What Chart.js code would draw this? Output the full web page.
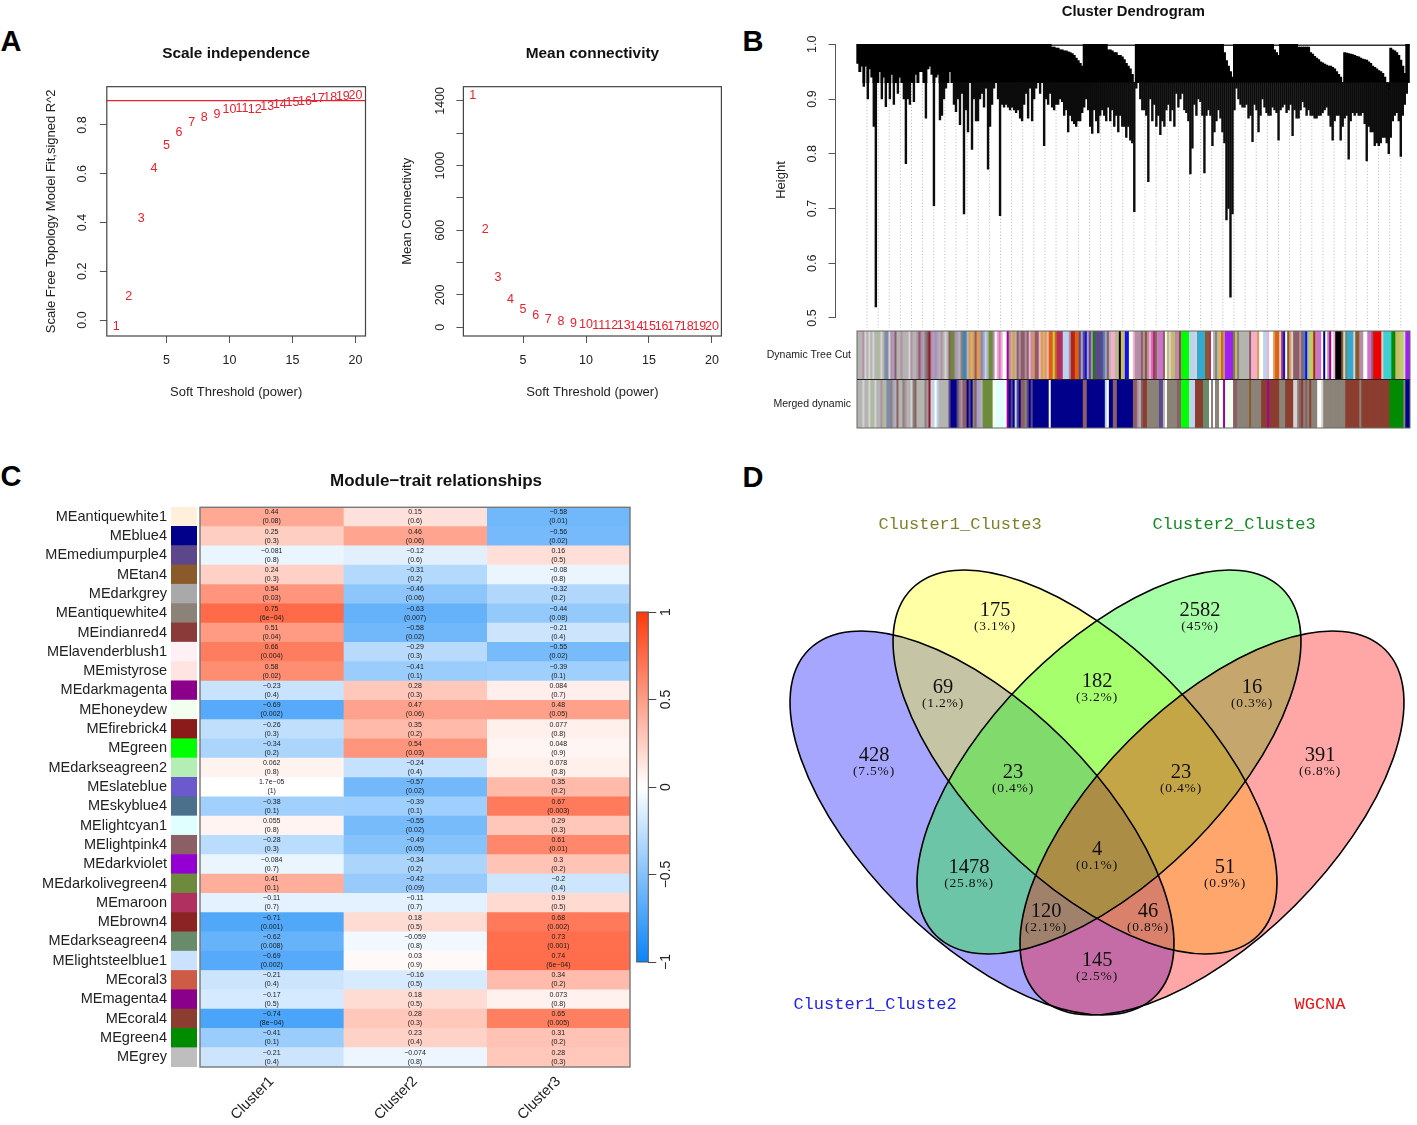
<!DOCTYPE html>
<html>
<head>
<meta charset="utf-8">
<title>WGNCA figure</title>
<script src="https://cdn.jsdelivr.net/npm/chart.js@4"></script>
<style>
html, body { margin: 0; padding: 0; background: #fff; width: 1417px; height: 1125px; overflow: hidden; }
canvas { position: absolute; }
.panel { position: absolute; font: bold 29px "Liberation Sans", sans-serif; color: #000; transform: translate(-50%, -50%); line-height: 1; }
</style>
</head>
<body>
<div class="panel" style="left:11px;top:41px">A</div>
<div class="panel" style="left:753px;top:41px">B</div>
<div class="panel" style="left:11px;top:476px">C</div>
<div class="panel" style="left:753px;top:477px">D</div>
<script>
// Panel A
const softPowers = [1, 2, 3, 4, 5, 6, 7, 8, 9, 10, 11, 12, 13, 14, 15, 16, 17, 18, 19, 20];
const scaleFit = [-0.027, 0.096, 0.417, 0.621, 0.714, 0.770, 0.810, 0.832, 0.843, 0.862, 0.867, 0.862, 0.875, 0.884, 0.893, 0.896, 0.908, 0.911, 0.915, 0.921];
const meanConnectivity = [1433, 606, 307, 173, 107, 70, 45, 33, 23, 16, 12, 10, 8, 6, 5, 4, 3, 3, 2, 2];
const powerTicks = [5, 10, 15, 20];
const scaleFitTicks = [0, 0.2, 0.4, 0.6, 0.8];
const connectivityTicks = [0, 200, 400, 600, 800, 1000, 1200, 1400];
const connectivityLabels = ['0', '200', '', '600', '', '1000', '', '1400'];
const fitCutoff = 0.9;

// Panel B: lowest and highest merge height per 2px slice of the tree
const dendroLow = [
  .965,.95,.96,.923,.96,.90,.955,.94,.85,.52,.93,.95,.90,.94,.886,.93,.90,.945,.89,.93,
  .91,.94,.93,.90,.782,.90,.89,.93,.895,.945,.93,.95,.95,.93,.865,.955,.96,.945,.705,.94,
  .945,.862,.87,.90,.92,.93,.95,.93,.89,.877,.90,.853,.91,.69,.88,.84,.93,.808,.90,.86,
  .86,.90,.91,.885,.92,.772,.85,.89,.92,.93,.90,.687,.89,.885,.89,.885,.88,.885,.88,.875,
  .88,.865,.86,.89,.91,.865,.92,.86,.90,.92,.93,.91,.93,.815,.90,.89,.91,.885,.88,.89,
  .89,.90,.895,.87,.88,.84,.87,.86,.855,.85,.86,.86,.875,.885,.90,.88,.85,.837,.88,.86,
  .838,.87,.88,.87,.86,.885,.86,.88,.85,.87,.84,.87,.85,.85,.83,.85,.825,.82,.694,.92,
  .93,.90,.88,.88,.87,.749,.90,.86,.89,.85,.87,.835,.86,.85,.88,.89,.86,.88,.85,.91,
  .885,.90,.91,.88,.875,.86,.763,.81,.89,.87,.90,.895,.87,.765,.87,.88,.87,.815,.84,.86,
  .88,.865,.84,.82,.679,.70,.538,.69,.88,.92,.90,.89,.885,.885,.89,.865,.87,.822,.89,.88,
  .84,.87,.90,.885,.875,.87,.87,.885,.88,.875,.825,.88,.885,.89,.875,.88,.89,.833,.88,.865,
  .865,.88,.895,.885,.87,.88,.87,.87,.865,.865,.87,.87,.875,.88,.885,.87,.85,.825,.86,.87,
  .87,.825,.85,.865,.87,.79,.86,.875,.87,.875,.87,.87,.875,.855,.787,.85,.84,.84,.815,.82,
  .815,.82,.83,.83,.82,.80,.83,.86,.87,.875,.86,.795,.87,.89,.91,.93
];
const dendroTop = [
  1,1,1,1,1,1,1,1,1,1,1,1,1,1,1,1,1,1,1,1,
  1,1,1,1,1,1,1,1,1,1,1,1,1,1,1,1,1,1,1,1,
  1,1,1,1,1,1,1,1,1,1,1,1,1,1,1,1,1,1,1,1,
  1,1,1,1,1,1,1,1,1,1,1,1,1,1,1,1,1,1,1,1,
  1,1,1,1,1,1,1,1,1,1,1,1,1,1,1,1,1,.995,.995,.993,
  .993,.99,.99,.988,.988,.986,.985,.983,.98,.975,.97,.965,.96,1,1,1,1,1,1,1,
  1,1,1,1,1,.99,.99,.988,.985,.985,.98,.98,.977,.972,.965,.96,.955,.945,.93,1,
  1,1,1,1,1,1,1,1,1,1,1,1,1,1,1,1,1,1,1,1,
  1,1,1,1,1,1,1,1,1,1,1,1,1,1,1,1,1,1,1,1,
  1,1,1,.985,.97,.96,.95,.94,1,1,1,1,1,1,1,1,1,1,1,1,
  1,1,1,1,1,1,1,1,.99,.985,.98,1,1,1,1,1,1,1,1,1,
  .995,.995,.995,.995,.995,.995,.985,.982,.978,.975,.972,.968,.966,.964,.962,.96,.96,.958,.955,.95,
  .945,.94,.93,.985,.984,.983,.982,.981,.98,.978,.977,.975,.973,.972,.971,.968,.965,.96,.958,.955,
  .952,.95,.947,.94,.93,.917,.993,.99,.988,.985,.98,.971,.96,.947,1,1
];
const heightTicks = [0.5, 0.6, 0.7, 0.8, 0.9, 1.0];
// one letter per slice, see moduleHex
const treeCutModules =
  'gggmjgjgjggejgssjmlu' + 'ggmgggjmggmumlaurmlm' + 'lgmgjguvvmlgattgoKou' + 'ooslEgvvmwPxPwwMmKog' +
  'umuumuPmouuPoKoPOOyO' + 'CCCEEEmffOOplpblpmDp' + 'ppptlugPPgKkYgbbwwPm' + 'mmumzmPxCumxxuhKjKKm' +
  'mCGGGGEEEjSSSSzzCwga' + 'gYOmqqqqvKaggggguPPP' + 'owwEEPwwoOOjCbwzojuu' + 'umutbgyyfmxxwnwmMwPk' +
  'kkzjdSSSjzzmmwwxxuRR' + 'RRjTTTTDDKKyyjqq';
const mergedModules =
  'gggjggjegjggmegssalg' + 'uggamggjauggggamrjEw' + 'Egggggpnnnpamuunpnau' + 'llgvvvvvhhccccwMnpnE' +
  'pnuuapnpnnnnnnnnwnnn' + 'nnnnnnnnnnnnnuunnnnn' + 'nnnnEwnnuunnnnnnnnuu' + 'mguiiaaaaaappgwaaaaa' +
  'uuGGGGEEEiiiidddwawa' + 'awwMhhhhuuaaaaaazaaa' + 'aaiiiMiiiiiaaaiiiijj' + 'auiauaiaaawwjaaaaaaa' +
  'aaaaiiiiiiiaiiiiiiii' + 'iiiiiiDDDDDDDann';
const moduleHex = {
  g: '#b4b4b0', j: '#d4d2d2', m: '#b48ea6', a: '#8b8378', u: '#8b5f65', s: '#7e8ca8', l: '#a9a0c8', e: '#a8c090',
  r: '#8b1a2a', i: '#8b3e2f', n: '#00008b', p: '#5d478b', w: '#ffffff', c: '#e0ffff', h: '#f0fff0', M: '#a000a0',
  k: '#000000', G: '#00ff00', E: '#bcd2ee', v: '#6e8b3d', d: '#698b69', D: '#008b00', T: '#40d0d0', S: '#35aad0',
  R: '#ee0000', y: '#bcd060', x: '#d070d0', P: '#f5b0c8', C: '#b03060', f: '#b22222', q: '#a020f0', z: '#8b5a2b',
  o: '#e09858', O: '#e0600c', t: '#4682b4', b: '#1010e0', K: '#c8b870', Y: '#d8c040'
};

// Panel C
const moduleNames = ['MEantiquewhite1', 'MEblue4', 'MEmediumpurple4', 'MEtan4', 'MEdarkgrey', 'MEantiquewhite4', 'MEindianred4', 'MElavenderblush1', 'MEmistyrose', 'MEdarkmagenta', 'MEhoneydew', 'MEfirebrick4', 'MEgreen', 'MEdarkseagreen2', 'MEslateblue', 'MEskyblue4', 'MElightcyan1', 'MElightpink4', 'MEdarkviolet', 'MEdarkolivegreen4', 'MEmaroon', 'MEbrown4', 'MEdarkseagreen4', 'MElightsteelblue1', 'MEcoral3', 'MEmagenta4', 'MEcoral4', 'MEgreen4', 'MEgrey'];
const moduleColors = ['#FFEFDB', '#00008B', '#5D478B', '#8B5A2B', '#A9A9A9', '#8B8378', '#8B3A3A', '#FFF0F5', '#FFE4E1', '#8B008B', '#F0FFF0', '#8B1A1A', '#00FF00', '#B4EEB4', '#6A5ACD', '#4A708B', '#E0FFFF', '#8B5F65', '#9400D3', '#6E8B3D', '#B03060', '#8B2323', '#698B69', '#CAE1FF', '#CD5B45', '#8B008B', '#8B3E2F', '#008B00', '#BEBEBE'];
const clusterNames = ['Cluster1', 'Cluster2', 'Cluster3'];
const corrCluster1 = ['0.44', '0.25', '-0.081', '0.24', '0.54', '0.75', '0.51', '0.66', '0.58', '-0.23', '-0.69', '-0.26', '-0.34', '0.062', '1.7e-05', '-0.38', '0.055', '-0.28', '-0.084', '0.41', '-0.11', '-0.71', '-0.62', '-0.69', '-0.21', '-0.17', '-0.74', '-0.41', '-0.21'];
const corrCluster2 = ['0.15', '0.46', '-0.12', '-0.31', '-0.46', '-0.63', '-0.58', '-0.29', '-0.41', '0.28', '0.47', '0.35', '0.54', '-0.24', '-0.57', '-0.39', '-0.55', '-0.49', '-0.34', '-0.42', '-0.11', '0.18', '-0.059', '0.03', '-0.16', '0.18', '0.28', '0.23', '-0.074'];
const corrCluster3 = ['-0.58', '-0.56', '0.16', '-0.08', '-0.32', '-0.44', '-0.21', '-0.55', '-0.39', '0.084', '0.48', '0.077', '0.048', '0.078', '0.35', '0.67', '0.29', '0.61', '0.3', '-0.2', '0.19', '0.68', '0.73', '0.74', '0.34', '0.073', '0.65', '0.31', '0.28'];
const pCluster1 = ['0.08', '0.3', '0.8', '0.3', '0.03', '6e-04', '0.04', '0.004', '0.02', '0.4', '0.002', '0.3', '0.2', '0.8', '1', '0.1', '0.8', '0.3', '0.7', '0.1', '0.7', '0.001', '0.008', '0.002', '0.4', '0.5', '8e-04', '0.1', '0.4'];
const pCluster2 = ['0.6', '0.06', '0.6', '0.2', '0.06', '0.007', '0.02', '0.3', '0.1', '0.3', '0.06', '0.2', '0.03', '0.4', '0.02', '0.1', '0.02', '0.05', '0.2', '0.09', '0.7', '0.5', '0.8', '0.9', '0.5', '0.5', '0.3', '0.4', '0.8'];
const pCluster3 = ['0.01', '0.02', '0.5', '0.8', '0.2', '0.08', '0.4', '0.02', '0.1', '0.7', '0.05', '0.8', '0.9', '0.8', '0.2', '0.003', '0.3', '0.01', '0.2', '0.4', '0.5', '0.002', '0.001', '6e-04', '0.2', '0.8', '0.005', '0.2', '0.3'];
const colorbarTicks = [-1, -0.5, 0, 0.5, 1];

// Panel D
const vennSetNames = ['Cluster1_Cluste3', 'Cluster2_Cluste3', 'Cluster1_Cluste2', 'WGCNA'];
const vennCounts = [428, 175, 2582, 391, 69, 182, 16, 23, 23, 1478, 4, 51, 120, 46, 145];
const vennShares = ['7.5%', '3.1%', '45%', '6.8%', '1.2%', '3.2%', '0.3%', '0.4%', '0.4%', '25.8%', '0.1%', '0.9%', '2.1%', '0.8%', '2.5%'];

// layout of the venn, in page pixels
const vennEllipses = [
  { cx: 982, cy: 823, rot: 45, color: 'rgba(0,0,255,0.35)' },
  { cx: 1085, cy: 762, rot: 45, color: 'rgba(255,255,0,0.35)' },
  { cx: 1109, cy: 762, rot: -45, color: 'rgba(0,255,0,0.35)' },
  { cx: 1212, cy: 823, rot: -45, color: 'rgba(255,0,0,0.35)' }
];
const vennSpots = [[874, 756], [995, 611], [1200, 611], [1320, 756], [943, 688], [1097, 682], [1252, 688], [1013, 773], [1181, 773], [969, 868], [1097, 850], [1225, 868], [1046, 912], [1148, 912], [1097, 961]];
const vennNameSpots = [[960, 524], [1234, 524], [875, 1004], [1320, 1004]];
const vennNameColors = ['#80802a', '#158a25', '#2222ee', '#ee1111'];

const SANS = '"Liberation Sans", Arial, sans-serif';
Chart.defaults.font.family = SANS;
Chart.defaults.color = '#222';
Chart.defaults.animation = false;
Chart.defaults.responsive = false;
Chart.defaults.plugins.legend.display = false;
Chart.defaults.plugins.tooltip.enabled = false;

function makeCanvas(left, top, width, height) {
  const canvas = document.createElement('canvas');
  canvas.width = width;
  canvas.height = height;
  canvas.style.left = left + 'px';
  canvas.style.top = top + 'px';
  canvas.style.width = width + 'px';
  canvas.style.height = height + 'px';
  document.body.appendChild(canvas);
  return canvas.getContext('2d');
}

// fixed axis sizes, so the plot areas land where they should
function fixWidth(w) {
  return scale => {
    scale.width = w;
    scale.paddingTop = 0;
    scale.paddingBottom = 0;
  };
}
function fixHeight(h) {
  return scale => {
    scale.height = h;
    scale.paddingLeft = 0;
    scale.paddingRight = 0;
  };
}
function setTicks(values) { return scale => { scale.ticks = values.map(v => ({ value: v })); }; }

const boxPlugin = {
  id: 'boxPlugin',
  afterDatasetsDraw(chart, args, opts) {
    const a = chart.chartArea, ctx = chart.ctx;
    ctx.save();
    ctx.strokeStyle = opts.color || '#444';
    ctx.lineWidth = opts.width || 1.2;
    ctx.strokeRect(a.left, a.top, a.right - a.left, a.bottom - a.top);
    ctx.restore();
  }
};

// titles are centred on a given x of the canvas, not on the whole canvas
const titleAtPlugin = {
  id: 'titleAt',
  afterLayout(chart, args, opts) {
    chart.titleBlock.left = opts.x - 200;
    chart.titleBlock.right = opts.x + 200;
  }
};

// the numbers 1..20 are the marks in panel A
const powerLabelPlugin = {
  id: 'powerLabelPlugin',
  afterDatasetsDraw(chart) {
    const ctx = chart.ctx;
    ctx.save();
    ctx.font = '12.5px ' + SANS;
    ctx.fillStyle = '#ea2030';
    ctx.textAlign = 'center';
    ctx.textBaseline = 'middle';
    chart.getDatasetMeta(0).data.forEach((pt, i) => ctx.fillText(String(softPowers[i]), pt.x, pt.y));
    ctx.restore();
  }
};

function softPowerChart(opts) {
  const area = opts.area;
  const left = opts.titleX - 7.8;
  const canvasTop = 40, canvasBottom = 400;
  const width = Math.ceil(area.right - left) + 4;
  const datasets = [{
    data: softPowers.map((p, i) => ({ x: p, y: opts.values[i] })),
    pointRadius: 0,
    showLine: false
  }];
  if (opts.cutoff !== undefined) {
    datasets.push({
      type: 'line',
      data: [{ x: opts.xMin, y: opts.cutoff }, { x: opts.xMax, y: opts.cutoff }],
      borderColor: '#ee2030',
      borderWidth: 1.2,
      pointRadius: 0
    });
  }
  new Chart(makeCanvas(left, canvasTop, width, canvasBottom - canvasTop), {
    type: 'scatter',
    data: { datasets },
    plugins: [boxPlugin, powerLabelPlugin, titleAtPlugin],
    options: {
      layout: { padding: { right: width - (area.right - left) } },
      plugins: {
        titleAt: { x: (area.left + area.right) / 2 - left },
        title: { display: true, text: opts.title, color: '#111', font: { size: 15.4, weight: 'bold' }, padding: { top: 5, bottom: area.top - canvasTop - 23.5 } }
      },
      scales: {
        x: {
          type: 'linear', min: opts.xMin, max: opts.xMax,
          afterFit: fixHeight(canvasBottom - area.bottom),
          afterBuildTicks: setTicks(powerTicks),
          border: { display: false },
          grid: { drawOnChartArea: false, tickLength: 7, tickColor: '#555' },
          ticks: { font: { size: 12.5 }, padding: 10, autoSkip: false, maxRotation: 0, callback: v => String(v) },
          title: { display: true, text: 'Soft Threshold (power)', font: { size: 13 }, padding: 0 }
        },
        y: {
          type: 'linear', min: opts.yMin, max: opts.yMax,
          afterFit: fixWidth(area.left - left),
          afterBuildTicks: setTicks(opts.yTicks),
          border: { display: false },
          grid: { drawOnChartArea: false, tickLength: 7, tickColor: '#555' },
          ticks: { font: { size: 12.5 }, padding: opts.tickPad, autoSkip: false, minRotation: 90, maxRotation: 90, crossAlign: 'center', callback: opts.yLabel },
          title: { display: true, text: opts.yTitle, font: { size: 13 }, padding: 0 }
        }
      }
    }
  });
}

function drawPanelA() {
  softPowerChart({
    area: { left: 107, right: 365.7, top: 86.7, bottom: 336 },
    titleX: 52, title: 'Scale independence', yTitle: 'Scale Free Topology Model Fit,signed R^2',
    values: scaleFit, cutoff: fitCutoff,
    xMin: 0.26, xMax: 20.8, yMin: -0.0656, yMax: 0.957,
    yTicks: scaleFitTicks, tickPad: 8.3, yLabel: v => v.toFixed(1)
  });
  softPowerChart({
    area: { left: 463.3, right: 721.3, top: 86.7, bottom: 336 },
    titleX: 407.7, title: 'Mean connectivity', yTitle: 'Mean Connectivity',
    values: meanConnectivity,
    xMin: 0.26, xMax: 20.75, yMin: -54, yMax: 1488,
    yTicks: connectivityTicks, tickPad: 2.4, yLabel: (v, i) => connectivityLabels[i]
  });
}

function drawDendrogram() {
  const TAIL_FROM = 0.93;
  const guidePlugin = {
    id: 'guidePlugin',
    beforeDatasetsDraw(chart) {
      const ctx = chart.ctx, x = chart.scales.x, y = chart.scales.y;
      ctx.save();
      ctx.strokeStyle = '#b4b4b4';
      ctx.setLineDash([1, 2.2]);
      for (let i = 4.6; i < dendroLow.length; i += 5.55) {
        ctx.beginPath();
        ctx.moveTo(x.getPixelForValue(i), y.getPixelForValue(0.95));
        ctx.lineTo(x.getPixelForValue(i), chart.chartArea.bottom);
        ctx.stroke();
      }
      ctx.restore();
    },
    afterDatasetsDraw(chart) {
      // R draws the axis line only between the outer ticks
      const ctx = chart.ctx, y = chart.scales.y;
      ctx.save();
      ctx.strokeStyle = '#555';
      ctx.lineWidth = 1;
      ctx.beginPath();
      ctx.moveTo(y.right, y.getPixelForValue(heightTicks[0]));
      ctx.lineTo(y.right, y.getPixelForValue(heightTicks[heightTicks.length - 1]));
      ctx.stroke();
      ctx.restore();
    }
  };
  const left = 774.2, areaLeft = 835.7, areaRight = 1410;
  const width = 640;
  new Chart(makeCanvas(left, 0, width, 328), {
    type: 'bar',
    data: {
      datasets: [
        {
          label: 'tails',
          data: dendroLow.map((low, i) => ({ x: i, y: low < TAIL_FROM ? [low, Math.min(TAIL_FROM, dendroTop[i])] : null })),
          backgroundColor: '#0c0c0c', barThickness: 1.75, grouped: false
        },
        {
          label: 'mass',
          data: dendroLow.map((low, i) => ({ x: i, y: [Math.max(low, TAIL_FROM), dendroTop[i]] })),
          backgroundColor: '#000', barThickness: 2.3, grouped: false
        },
        {
          type: 'line', label: 'root',
          data: [{ x: -0.5, y: 0.998 }, { x: dendroLow.length - 0.5, y: 0.998 }],
          borderColor: '#333', borderWidth: 1.5, pointRadius: 0
        }
      ]
    },
    plugins: [guidePlugin, titleAtPlugin],
    options: {
      layout: { padding: { right: width - (areaRight - left) } },
      plugins: {
        titleAt: { x: 1133.5 - left },
        title: { display: true, text: 'Cluster Dendrogram', color: '#111', font: { size: 14.8, weight: 'bold' }, padding: { top: 3, bottom: 11.2 } }
      },
      scales: {
        x: { type: 'linear', offset: false, display: false, min: -11.13, max: 275.5, grid: { display: false } },
        y: {
          type: 'linear', min: 0.4817, max: 1.0225,
          afterFit: fixWidth(areaLeft - left),
          afterBuildTicks: setTicks(heightTicks),
          border: { display: false },
          grid: { drawOnChartArea: false, tickLength: 7, tickColor: '#555' },
          ticks: { font: { size: 12.5 }, padding: 7.3, autoSkip: false, minRotation: 90, maxRotation: 90, crossAlign: 'center', callback: v => v.toFixed(1) },
          title: { display: true, text: 'Height', font: { size: 13 }, padding: 0 }
        }
      }
    }
  });

  // module colour strips under the tree
  const stripLabels = ['Merged dynamic', 'Dynamic Tree Cut'];
  const bins = dendroLow.map((_, i) => i);
  const rowPlugin = {
    id: 'rowPlugin',
    afterDatasetsDraw(chart) {
      const ctx = chart.ctx, a = chart.chartArea, y = chart.scales.y.getPixelForValue(1);
      ctx.save();
      ctx.strokeStyle = '#222';
      ctx.lineWidth = 1.2;
      ctx.beginPath();
      ctx.moveTo(a.left, y);
      ctx.lineTo(a.right, y);
      ctx.stroke();
      ctx.restore();
    }
  };
  new Chart(makeCanvas(740, 330, 672, 99), {
    type: 'bar',
    data: {
      labels: bins,
      datasets: [
        { data: bins.map(() => [1, 2]), backgroundColor: bins.map(i => moduleHex[treeCutModules[i]]), barThickness: 2.6, grouped: false },
        { data: bins.map(() => [0, 1]), backgroundColor: bins.map(i => moduleHex[mergedModules[i]]), barThickness: 2.6, grouped: false }
      ]
    },
    plugins: [boxPlugin, rowPlugin],
    options: {
      layout: { padding: { top: 1, bottom: 1, right: 2 } },
      plugins: { boxPlugin: { color: '#666', width: 1 } },
      scales: {
        x: { display: false },
        y: {
          type: 'linear', min: 0, max: 2,
          afterFit: fixWidth(117),
          afterBuildTicks: setTicks([0.5, 1.5]),
          border: { display: false },
          grid: { display: false, drawTicks: false },
          ticks: { font: { size: 10.5 }, padding: 6, autoSkip: false, callback: (v, i) => stripLabels[i] }
        }
      }
    }
  });
}

// white to dodger blue / orange red, like WGCNA blueWhiteRed
function corrColor(v) {
  const end = v < 0 ? [10, 132, 247] : [255, 58, 12];
  const t = Math.min(Math.abs(v), 1);
  const mix = end.map(c => Math.round(255 + (c - 255) * t));
  return `rgb(${mix[0]},${mix[1]},${mix[2]})`;
}

function drawHeatmap() {
  const top = 507.3, bottom = 1067.3;

  // colour column and the module names
  new Chart(makeCanvas(0, top, 197, bottom - top), {
    type: 'bar',
    data: {
      labels: moduleNames,
      datasets: [{ data: moduleNames.map(() => 1), backgroundColor: moduleColors, barPercentage: 1, categoryPercentage: 1, borderWidth: 0 }]
    },
    options: {
      indexAxis: 'y',
      scales: {
        x: { display: false, min: 0, max: 1 },
        y: {
          afterFit: fixWidth(171),
          border: { display: false },
          grid: { display: false, drawTicks: false },
          ticks: { font: { size: 14.5 }, padding: 4, autoSkip: false }
        }
      }
    }
  });

  const columns = [corrCluster1, corrCluster2, corrCluster3];
  const pColumns = [pCluster1, pCluster2, pCluster3];
  const cellTextPlugin = {
    id: 'cellTextPlugin',
    afterDatasetsDraw(chart) {
      const ctx = chart.ctx;
      ctx.save();
      ctx.font = '7px ' + SANS;
      ctx.fillStyle = '#1a1a1a';
      ctx.textAlign = 'center';
      ctx.textBaseline = 'middle';
      columns.forEach((col, c) => {
        chart.getDatasetMeta(c).data.forEach((bar, r) => {
          const mid = bar.getCenterPoint();
          ctx.fillText(col[r].replace(/-/g, '\u2212'), mid.x, mid.y - 4.6);
          ctx.fillText('(' + pColumns[c][r].replace(/-/g, '\u2212') + ')', mid.x, mid.y + 4.4);
        });
      });
      ctx.restore();
    }
  };
  new Chart(makeCanvas(150, 470, 484, 657), {
    type: 'bar',
    data: {
      labels: moduleNames,
      datasets: columns.map((col, c) => ({
        label: clusterNames[c],
        data: col.map(() => 1),
        backgroundColor: col.map(v => corrColor(Number(v))),
        barPercentage: 1, categoryPercentage: 1, borderWidth: 0
      }))
    },
    plugins: [cellTextPlugin, boxPlugin, titleAtPlugin],
    options: {
      indexAxis: 'y',
      layout: { padding: { left: 50, right: 4 } },
      plugins: {
        boxPlugin: { color: '#777', width: 1.4 },
        titleAt: { x: 436 - 150 },
        title: { display: true, text: 'Module\u2212trait relationships', color: '#111', font: { size: 17, weight: 'bold' }, padding: { top: 1, bottom: 15.9 } }
      },
      scales: {
        x: {
          type: 'linear', stacked: true, min: 0, max: 3,
          afterFit: fixHeight(60),
          afterBuildTicks: setTicks([0.5, 1.5, 2.5]),
          border: { display: false },
          grid: { display: false, drawTicks: false },
          ticks: { font: { size: 14.5 }, padding: 6, autoSkip: false, minRotation: 45, maxRotation: 45, callback: (v, i) => clusterNames[i] }
        },
        y: { stacked: true, display: false }
      }
    }
  });

  // colour key
  new Chart(makeCanvas(620, 600, 80, 375), {
    type: 'bar',
    data: {
      labels: ['key'],
      datasets: [{
        data: [[-1, 1]],
        barPercentage: 1, categoryPercentage: 1,
        backgroundColor(c) {
          const area = c.chart.chartArea;
          if (!area) return '#fff';
          const g = c.chart.ctx.createLinearGradient(0, area.top, 0, area.bottom);
          g.addColorStop(0, corrColor(1));
          g.addColorStop(0.5, corrColor(0));
          g.addColorStop(1, corrColor(-1));
          return g;
        }
      }]
    },
    plugins: [boxPlugin],
    options: {
      layout: { padding: { left: 16.7, top: 12, bottom: 13 } },
      plugins: { boxPlugin: { color: '#555', width: 1 } },
      scales: {
        x: { display: false },
        y: {
          position: 'right', type: 'linear', min: -1, max: 1,
          afterFit: fixWidth(51.7),
          afterBuildTicks: setTicks(colorbarTicks),
          border: { display: false },
          grid: { drawOnChartArea: false, tickLength: 8, tickColor: '#444' },
          ticks: { font: { size: 14 }, padding: -4.1, autoSkip: false, minRotation: 90, maxRotation: 90, crossAlign: 'center', callback: v => String(v).replace('-', '\u2212') }
        }
      }
    }
  });
}

function drawVenn() {
  const ellipsePlugin = {
    id: 'ellipsePlugin',
    beforeDatasetsDraw(chart) {
      const ctx = chart.ctx, x = chart.scales.x, y = chart.scales.y;
      const path = e => {
        ctx.beginPath();
        ctx.ellipse(x.getPixelForValue(e.cx), y.getPixelForValue(e.cy), 245, 117, e.rot * Math.PI / 180, 0, 2 * Math.PI);
      };
      ctx.save();
      vennEllipses.forEach(e => { path(e); ctx.fillStyle = e.color; ctx.fill(); });
      ctx.strokeStyle = '#000';
      ctx.lineWidth = 1.6;
      vennEllipses.forEach(e => { path(e); ctx.stroke(); });
      ctx.restore();
    },
    afterDatasetsDraw(chart) {
      const ctx = chart.ctx;
      ctx.save();
      ctx.textAlign = 'center';
      ctx.textBaseline = 'middle';
      ctx.fillStyle = '#111';
      chart.getDatasetMeta(0).data.forEach((pt, i) => {
        ctx.font = '20.5px "Liberation Serif", serif';
        ctx.letterSpacing = '0px';
        ctx.fillText(String(vennCounts[i]), pt.x, pt.y);
        ctx.font = '13.5px "Liberation Serif", serif';
        ctx.letterSpacing = '0.8px';
        ctx.fillText('(' + vennShares[i] + ')', pt.x, pt.y + 15.5);
      });
      ctx.font = '17px "Liberation Mono", monospace';
      ctx.letterSpacing = '0px';
      chart.getDatasetMeta(1).data.forEach((pt, i) => {
        ctx.fillStyle = vennNameColors[i];
        ctx.fillText(vennSetNames[i], pt.x, pt.y);
      });
      ctx.restore();
    }
  };
  new Chart(makeCanvas(780, 500, 637, 530), {
    type: 'scatter',
    data: {
      datasets: [
        { data: vennSpots.map(s => ({ x: s[0], y: s[1] })), pointRadius: 0 },
        { data: vennNameSpots.map(s => ({ x: s[0], y: s[1] })), pointRadius: 0 }
      ]
    },
    plugins: [ellipsePlugin],
    options: {
      scales: {
        x: { display: false, min: 780, max: 1417 },
        y: { display: false, min: 500, max: 1030, reverse: true }
      }
    }
  });
}

document.addEventListener('DOMContentLoaded', function() {
  drawPanelA();
  drawDendrogram();
  drawHeatmap();
  drawVenn();
});
</script>
</body>
</html>
